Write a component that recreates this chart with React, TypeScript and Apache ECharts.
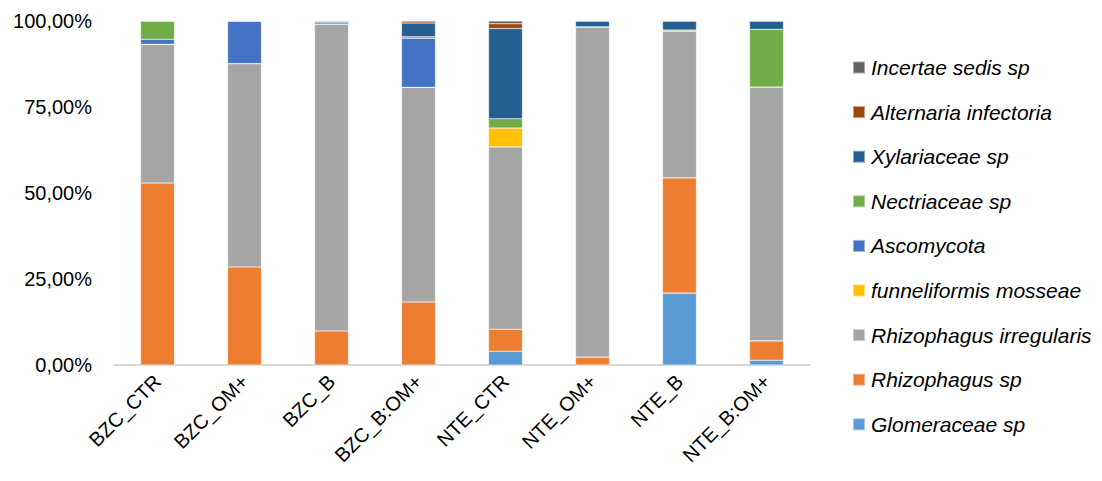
import React, { useEffect, useRef } from "react";
import * as echarts from "echarts";

const categories = ["BZC_CTR", "BZC_OM+", "BZC_B", "BZC_B:OM+", "NTE_CTR", "NTE_OM+", "NTE_B", "NTE_B:OM+"];

const glomeraceae = [0, 0, 0, 0, 4.0, 0, 20.9, 1.4];
const rhizophagusSp = [52.9, 28.5, 9.9, 18.3, 6.4, 2.3, 33.5, 5.6];
const rhizophagusIrr = [40.3, 59.1, 89.2, 62.4, 53.0, 96.0, 42.7, 73.8];
const funneliformis = [0, 0, 0, 0, 5.5, 0, 0, 0];
const ascomycota = [1.5, 12.4, 0.6, 14.3, 0, 0, 0, 0];
const nectriaceae = [5.3, 0, 0, 0.4, 2.7, 0, 0.3, 16.8];
const xylariaceae = [0, 0, 0.3, 4.0, 26.2, 1.7, 2.6, 2.4];
const alternaria = [0, 0, 0, 0.6, 1.4, 0, 0, 0];
const incertae = [0, 0, 0, 0, 0.8, 0, 0, 0];

const yTicks = [0, 25, 50, 75, 100];

const seriesDefs = [
  { name: "Glomeraceae sp", data: glomeraceae, color: "#5B9BD5" },
  { name: "Rhizophagus sp", data: rhizophagusSp, color: "#ED7D31" },
  { name: "Rhizophagus irregularis", data: rhizophagusIrr, color: "#A5A5A5" },
  { name: "funneliformis mosseae", data: funneliformis, color: "#FFC000" },
  { name: "Ascomycota", data: ascomycota, color: "#4472C4" },
  { name: "Nectriaceae sp", data: nectriaceae, color: "#70AD47" },
  { name: "Xylariaceae sp", data: xylariaceae, color: "#255E91" },
  { name: "Alternaria infectoria", data: alternaria, color: "#9E480E" },
  { name: "Incertae sedis sp", data: incertae, color: "#636363" },
];

const FONT = "'Liberation Sans', Arial, sans-serif";

export default function App() {
  const ref = useRef<HTMLDivElement>(null);
  useEffect(() => {
    if (!ref.current) return;
    const chart = echarts.init(ref.current, undefined, { renderer: "svg" });
    chart.setOption({
      animation: false,
      backgroundColor: "#ffffff",
      grid: { left: 114, right: 292, top: 21, bottom: 116, containLabel: false },
      legend: {
        orient: "vertical",
        left: 847,
        top: 52,
        itemWidth: 12,
        itemHeight: 12,
        itemGap: 23.6,
        icon: "rect",
        data: seriesDefs.map((s) => s.name).reverse(),
        textStyle: { fontFamily: FONT, fontSize: 21, lineHeight: 21, fontStyle: "italic", color: "#000", padding: [0, 0, 0, 1] },
      },
      xAxis: {
        type: "category",
        data: categories,
        axisLine: { lineStyle: { color: "#D9D9D9", width: 2 } },
        axisTick: { show: false },
        axisLabel: { rotate: 45, fontFamily: FONT, fontSize: 20, color: "#000", margin: 13, interval: 0 },
      },
      yAxis: {
        type: "value",
        min: yTicks[0],
        max: yTicks[yTicks.length - 1],
        interval: 25,
        splitLine: { show: false },
        axisLine: { show: false },
        axisTick: { show: false },
        axisLabel: {
          fontFamily: FONT,
          fontSize: 20,
          color: "#000",
          margin: 22,
          formatter: (v: number) => v.toFixed(2).replace(".", ",") + "%",
        },
      },
      series: seriesDefs.map((s) => ({
        name: s.name,
        type: "bar",
        stack: "total",
        barWidth: 34,
        data: s.data,
        itemStyle: { color: s.color, borderColor: "rgba(255,255,255,0.45)", borderWidth: 0.6 },
      })),
    });
    return () => chart.dispose();
  }, []);
  return <div ref={ref} style={{ position: "fixed", left: 0, top: 0, width: 1102, height: 481 }} />;
}
